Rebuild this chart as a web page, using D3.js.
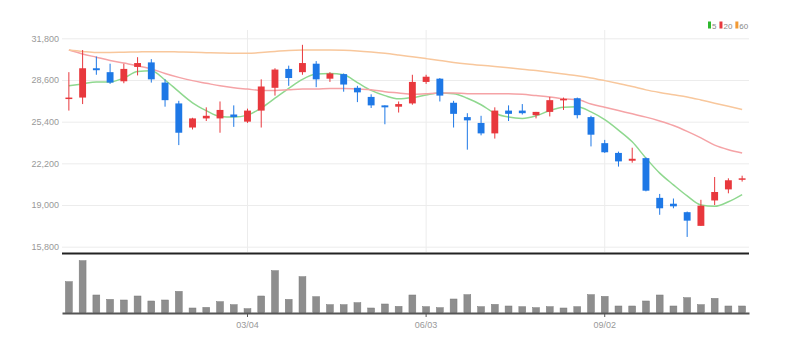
<!DOCTYPE html>
<html><head><meta charset="utf-8">
<script src="https://cdn.jsdelivr.net/npm/d3@7"></script>
<style>
html,body{margin:0;padding:0;background:#fff;}
svg{display:block;}
</style></head>
<body>
<svg id="chart" width="789" height="352"></svg>
<script>
const dates = ["12/03","12/10","12/17","12/24","12/31","01/07","01/14","01/21","01/28","02/04","02/11","02/18","02/25","03/04","03/11","03/18","03/25","04/01","04/08","04/15","04/22","04/29","05/06","05/13","05/20","05/27","06/03","06/10","06/17","06/24","07/01","07/08","07/15","07/22","07/29","08/05","08/12","08/19","08/26","09/02","09/09","09/16","09/23","09/30","10/07","10/14","10/21","10/28","11/04","11/11"];
const openV  = [27150,27250,29500,29200,28500,29600,29950,28400,26800,24950,25650,25650,25950,25400,26250,28000,29450,29200,29850,28700,29050,28000,27300,26650,26550,26800,28450,28700,26850,25750,25300,24500,26250,26250,25900,26150,27050,27200,25750,23750,23000,22400,22600,19550,19100,18450,17400,19350,20200,20950];
const highV  = [29200,30900,30400,29850,29850,30350,30200,28650,27000,25700,26500,26950,26650,26400,28650,29500,29700,31300,30050,29200,29100,28150,27500,26650,26950,29000,29000,28750,27000,26050,25850,26500,26650,26750,26150,27300,27250,27250,25850,24000,23100,23400,22650,19850,19500,18500,19400,21150,21050,21250];
const lowV   = [26250,26750,29000,28300,28350,28950,28400,26550,23600,24800,25450,24550,25000,25300,24950,27400,28150,29000,28050,28450,27700,26900,26450,25200,26100,26700,28300,26950,24950,23250,24350,24100,25450,25950,25650,25800,26300,25650,23500,23000,21950,22250,20050,18250,18750,16550,17400,19000,19900,20800];
const closeV = [27250,29500,29350,28400,29450,29900,28650,27050,24550,25650,25850,26300,25750,26250,28100,29400,28750,29900,28650,29100,28250,27650,26650,26500,26750,28450,28850,27400,26000,25500,24500,26250,26000,26050,26150,27050,27150,25900,24400,23050,22350,22550,20100,18750,18900,17800,18950,20000,20900,21050];
const volumeV = [310,520,177,133,127,167,117,127,213,47,53,110,80,40,167,420,133,360,160,80,80,100,47,87,63,177,60,50,137,180,60,83,67,60,50,60,47,60,180,163,67,67,117,177,67,150,80,143,67,67];
const ma5  = [28150,28300,28450,28450,28750,29250,29300,28600,27700,26850,26250,25800,25750,25900,26450,27200,27950,28650,29050,29100,29000,28400,27800,27400,27150,27250,27450,27600,27550,27200,26700,26050,25750,25650,25850,26250,26500,26550,26150,25550,24750,23850,22600,21450,20550,19700,19000,18900,19250,19800];
const ma20 = [30900,30600,30350,30100,29900,29700,29450,29100,28800,28550,28350,28150,28000,27900,27800,27800,27850,27900,27900,27950,27950,27900,27850,27700,27600,27500,27550,27600,27600,27550,27550,27550,27550,27500,27400,27300,27150,27100,26750,26500,26250,26000,25750,25450,25100,24650,24150,23600,23250,23000];
const ma60 = [30900,30790,30710,30710,30730,30750,30770,30770,30750,30730,30700,30670,30650,30650,30710,30790,30870,30900,30900,30900,30880,30830,30750,30650,30520,30380,30240,30100,29950,29830,29730,29640,29540,29420,29320,29200,29060,28930,28760,28550,28330,28100,27840,27640,27470,27300,27070,26820,26590,26340];
const priceTicks = [15800,19000,22200,25400,28600,31800];
const xTickLabels = ["03/04","06/03","09/02"];
const maSeries = [
  {label:"5",  values: ma5,  line:"#8fd88f", swatch:"#2eb82e"},
  {label:"20", values: ma20, line:"#f5a3a6", swatch:"#e8383d"},
  {label:"60", values: ma60, line:"#f8c79c", swatch:"#f29a34"}
];

const svg = d3.select("#chart");
const left = 62, right = 749;
const font = "'Liberation Sans Narrow','Liberation Sans',Arial,sans-serif";

const x = d3.scaleBand().domain(dates).range([left, right]).paddingInner(0.5).paddingOuter(0.25);
const cx = d => x(d) + x.bandwidth()/2;
const y = d3.scaleLinear().domain([15800, 31800]).range([246.7, 38.3]);
const yv = d3.scaleLinear().domain([0, 520]).range([312.7, 260.7]);

// y grid + labels
const yAxis = d3.axisLeft(y).tickValues(priceTicks).tickFormat(d3.format(",")).tickSize(-(right - left)).tickPadding(3);
const gy = svg.append("g").attr("transform", `translate(${left},0)`).call(yAxis);
gy.select(".domain").remove();
gy.selectAll("line").attr("stroke", "#ececec");
gy.selectAll("text").attr("fill", "#999").style("font-family", font).style("font-size", "9px");

// vertical grid at x ticks
svg.append("g").selectAll("line").data(xTickLabels).join("line")
  .attr("x1", d => cx(d)).attr("x2", d => cx(d)).attr("y1", 30).attr("y2", 252)
  .attr("stroke", "#ececec");

// separator
svg.append("line").attr("x1", left).attr("x2", right).attr("y1", 253.5).attr("y2", 253.5)
  .attr("stroke", "#222").attr("stroke-width", 2);

// MA lines
const idx = d3.range(dates.length);
maSeries.forEach(s => {
  const line = d3.line().x(i => cx(dates[i])).y(i => y(s.values[i])).curve(d3.curveMonotoneX);
  svg.append("path").datum(idx).attr("d", line).attr("fill", "none")
    .attr("stroke", s.line).attr("stroke-width", 1.5);
});

// candles
const up = "#e8383d", down = "#1e78e6";
const cg = svg.append("g").selectAll("g").data(idx).join("g");
cg.append("line")
  .attr("x1", i => cx(dates[i])).attr("x2", i => cx(dates[i]))
  .attr("y1", i => y(highV[i])).attr("y2", i => y(lowV[i]))
  .attr("stroke", i => closeV[i] >= openV[i] ? up : down).attr("stroke-width", 1);
cg.append("rect")
  .attr("x", i => x(dates[i])).attr("width", x.bandwidth())
  .attr("y", i => y(Math.max(openV[i], closeV[i])))
  .attr("height", i => Math.max(1.5, Math.abs(y(openV[i]) - y(closeV[i]))))
  .attr("fill", i => closeV[i] >= openV[i] ? up : down);

// volume bars
svg.append("g").selectAll("rect").data(idx).join("rect")
  .attr("x", i => x(dates[i])).attr("width", x.bandwidth())
  .attr("y", i => yv(volumeV[i])).attr("height", i => yv(0) - yv(volumeV[i]))
  .attr("fill", "#8e8e8e").attr("stroke", "#7a7a7a").attr("stroke-width", 0.5);

// x axis
const xAxis = d3.axisBottom(x).tickValues(xTickLabels).tickSize(4).tickSizeOuter(0).tickPadding(5);
const gx = svg.append("g").attr("transform", "translate(0,313)").call(xAxis);
gx.select(".domain").attr("stroke", "#555").attr("stroke-width", 2);
gx.selectAll(".tick line").attr("stroke", "#555");
gx.selectAll("text").attr("fill", "#999").style("font-family", font).style("font-size", "9px");

// legend
const lg = svg.append("g").attr("transform", "translate(708,0)");
let lx = 0;
maSeries.forEach(s => {
  lg.append("rect").attr("x", lx).attr("y", 21.5).attr("width", 3).attr("height", 7).attr("fill", s.swatch);
  const t = lg.append("text").attr("x", lx + 4).attr("y", 28.5).text(s.label)
    .attr("fill", "#888").style("font-family", font).style("font-size", "8px");
  lx += 4 + t.node().getComputedTextLength() + 3;
});
</script>
</body></html>
